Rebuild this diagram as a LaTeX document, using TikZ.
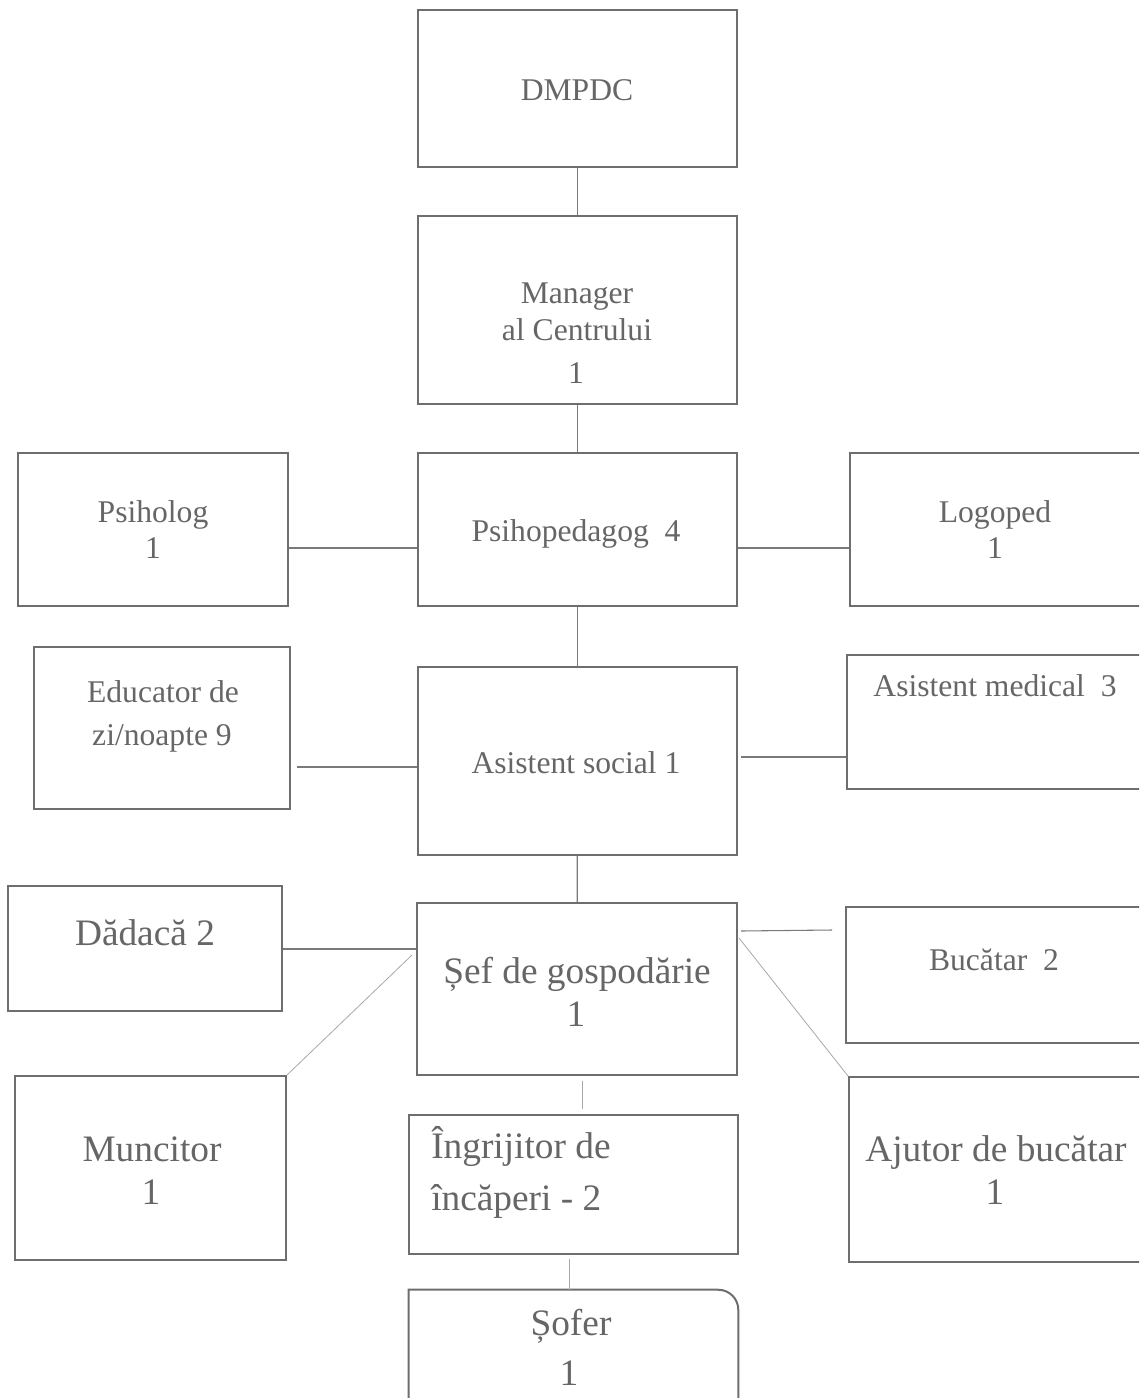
\documentclass[tikz,border=0pt]{standalone}
\usepackage{fontspec}
\setmainfont{Liberation Serif}
\usetikzlibrary{fit}
\definecolor{boxgray}{HTML}{6E6E6E}
\definecolor{txtgray}{HTML}{666666}
\definecolor{linegray}{HTML}{7A7A7A}
\definecolor{lightgray}{HTML}{A8A8A8}
\begin{document}
\begin{tikzpicture}[x=0.75pt,y=-0.75pt,
  box/.style={draw=boxgray, line width=1.5pt, inner sep=0pt, rectangle},
  ghost/.style={draw=none, inner sep=0pt, rectangle},
  txts/.style={text=txtgray, inner sep=0pt, anchor=base, font=\fontsize{23.7}{28}\selectfont},
  txtl/.style={text=txtgray, inner sep=0pt, anchor=base, font=\fontsize{28}{33}\selectfont},
  conn/.style={draw=linegray, line width=1pt},
  connthin/.style={draw=lightgray, line width=0.6pt}]
\useasboundingbox (0,0) rectangle (1139,1398);
\clip (0,0) rectangle (1139,1398);
\fill[white] (0,0) rectangle (1139,1398);

% boxes
\node[box, fit={(418,10) (737,167)}] (dmpdc) {};
\node[box, fit={(418,216) (737,404)}] (manager) {};
\node[box, fit={(418,453) (737,606)}] (psiped) {};
\node[box, fit={(18,453) (288,606)}] (psih) {};
\node[box, fit={(850,453) (1170,606)}] (logo) {};
\node[box, fit={(34,647) (290,809)}] (educ) {};
\node[box, fit={(418,667) (737,855)}] (asoc) {};
\node[box, fit={(847,655) (1170,789)}] (amed) {};
\node[box, fit={(8,886) (282,1011)}] (dadaca) {};
\node[box, fit={(417,903) (737,1075)}] (sef) {};
\node[box, fit={(846,907) (1170,1043)}] (bucatar) {};
\node[box, fit={(15,1076) (286,1260)}] (munc) {};
\node[box, fit={(409,1115) (738,1254)}] (ingr) {};
\node[box, fit={(849,1077) (1170,1262)}] (ajutor) {};
\node[ghost, fit={(409,1290) (738,1430)}] (sofer) {};
\draw[draw=boxgray, line width=1.5pt] (sofer.south west) -- (sofer.north west)
  -- ([xshift=-15pt]sofer.north east) arc[start angle=90, end angle=0, radius=15pt]
  -- (sofer.south east);

% texts
\node[txts] (tdmpdc) at (577,101) {DMPDC};
\node[txts] (tman1) at (577,303) {Manager};
\node[txts] (tman2) at (577,340) {al Centrului};
\node[txts] (tman3) at (576,383) {1};
\node[txts] (tpsih1) at (153,522) {Psiholog};
\node[txts] (tpsih2) at (153,558) {1};
\node[txts] (tpsiped) at (576,541) {Psihopedagog\ \ 4};
\node[txts] (tlogo1) at (995,522) {Logoped};
\node[txts] (tlogo2) at (995,558) {1};
\node[txts] (teduc1) at (163,702) {Educator de};
\node[txts] (teduc2) at (162,745) {zi/noapte 9};
\node[txts] (tasoc) at (576,773) {Asistent social 1};
\node[txts] (tamed) at (995,696) {Asistent medical\ \ 3};
\node[txtl] (tdad) at (145,945) {Dădacă 2};
\node[txtl] (tsef1) at (577,983) {Șef de gospodărie};
\node[txtl] (tsef2) at (576,1026) {1};
\node[txts] (tbuc) at (994,970) {Bucătar\ \ 2};
\node[txtl] (tmunc1) at (152,1161) {Muncitor};
\node[txtl] (tmunc2) at (151,1204) {1};
\node[txtl, anchor=base west] (tingr1) at (431,1158) {Îngrijitor de};
\node[txtl, anchor=base west] (tingr2) at (431,1210) {încăperi - 2};
\node[txtl] (taj1) at (996,1161) {Ajutor de bucătar};
\node[txtl] (taj2) at (995,1204) {1};
\node[txtl] (tsof1) at (571,1335) {Șofer};
\node[txtl] (tsof2) at (569,1385) {1};

% connectors
\draw[conn] (dmpdc) -- (manager);
\draw[conn] (manager) -- (psiped);
\draw[conn] (psiped) -- (asoc);
\draw[conn] (asoc) -- (sef);
\draw[conn, line width=1.3pt] ([shift={(0,18.5)}]psih.east) -- ([shift={(0,18.5)}]psiped.west);
\draw[conn, line width=1.3pt] ([shift={(0,18.5)}]psiped.east) -- ([shift={(0,18.5)}]logo.west);
\draw[conn, line width=0.8pt] ([shift={(6,39)}]educ.east) -- ([shift={(0,6)}]asoc.west);
\draw[conn, line width=0.8pt] ([shift={(3,-4)}]asoc.east) -- ([shift={(0,35)}]amed.west);
\draw[conn, line width=0.8pt] ([shift={(0,0.5)}]dadaca.east) -- ([shift={(0,-40)}]sef.west);
\draw[conn, line width=0.8pt] ([shift={(3,-58)}]sef.east) -- ([shift={(-13,-45)}]bucatar.west);
\draw[connthin] ([shift={(-4,-34)}]sef.west) -- (munc.north east);
\draw[connthin] ([shift={(1,-51)}]sef.east) -- (ajutor.north west);
\draw[connthin] ([shift={(5,5)}]sef.south) -- ([shift={(8.5,-5)}]ingr.north);
\draw[connthin] ([shift={(-4.5,4)}]ingr.south) -- ([shift={(-4.5,0)}]sofer.north);
\end{tikzpicture}
\end{document}
